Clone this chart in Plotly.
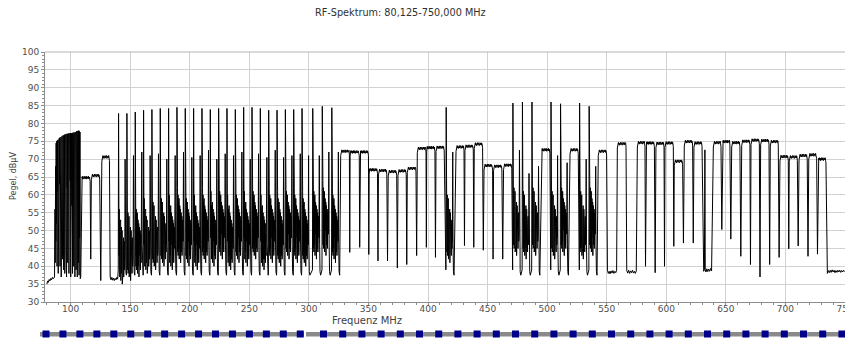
import plotly.graph_objects as go

# ---------------- data (MHz / dBµV) ----------------
# noise-floor stretches
floor_f = [80.1, 80.7, 81.3, 82.0, 82.6, 83.3, 84.0, 84.7, 85.4, 86.1,
           133.2, 133.9, 134.6, 135.3, 136.0, 136.7, 137.4, 138.1, 138.8, 139.5,
           550.6, 551.3, 552.0, 552.8, 553.6, 554.4, 555.2, 556.0, 556.8, 557.6, 558.3,
           566.8, 567.6, 568.4, 569.2, 570.0, 570.8, 571.6, 572.4, 573.2, 574.0, 574.8,
           630.8, 631.4, 632.0, 632.4, 632.7, 633.3, 634.0, 634.8, 635.6, 636.4, 637.2, 638.0,
           735.2, 736.0, 736.8, 737.6, 738.4, 739.2, 740.0, 740.8, 741.6, 742.4,
           743.2, 744.0, 744.8, 745.6, 746.4, 747.2, 748.0, 748.8, 749.6]
floor_v = [35.0, 35.9, 35.5, 36.3, 35.9, 36.6, 36.2, 36.9, 36.5, 37.0,
           37.0, 36.2, 36.9, 36.1, 36.7, 36.0, 36.6, 36.2, 36.9, 36.4,
           38.9, 38.0, 38.6, 37.9, 38.7, 38.1, 38.8, 38.0, 38.6, 38.2, 38.9,
           38.8, 38.1, 38.9, 38.0, 38.7, 38.2, 38.9, 38.1, 38.6, 38.0, 38.7,
           39.5, 38.6, 39.2, 72.6, 39.0, 38.4, 39.3, 38.5, 39.2, 38.6, 39.4, 38.7,
           38.0, 38.8, 38.2, 38.9, 38.3, 39.0, 38.4, 38.9, 38.2, 38.8,
           38.3, 38.9, 38.4, 38.9, 38.3, 38.8, 38.4, 38.9, 38.5]

# FM band carriers and troughs
fm_f = [86.5, 86.9, 87.1, 87.4, 87.6, 87.85, 88.1, 88.35, 88.6, 88.85,
        89.1, 89.35, 89.6, 89.85, 90.1, 90.35, 90.6, 90.85, 91.1, 91.35,
        91.6, 91.85, 92.1, 92.35, 92.6, 92.85, 93.1, 93.35, 93.6, 93.85,
        94.1, 94.35, 94.6, 94.85, 95.1, 95.35, 95.6, 95.85, 96.1, 96.35,
        96.6, 96.85, 97.1, 97.35, 97.6, 97.85, 98.1, 98.35, 98.6, 98.85,
        99.1, 99.35, 99.6, 99.85, 100.1, 100.35, 100.6, 100.85, 101.1, 101.35,
        101.6, 101.85, 102.1, 102.35, 102.6, 102.85, 103.1, 103.35, 103.6, 103.85,
        104.1, 104.35, 104.6, 104.85, 105.1, 105.35, 105.6, 105.85, 106.1, 106.35,
        106.6, 106.85, 107.1, 107.35, 107.6, 107.85, 108.1, 108.5]
fm_v = [37.0, 56, 41, 68, 47, 74.5, 52, 75.0, 40, 75.2,
        61, 75.4, 38, 75.6, 45, 75.8, 63, 76.0, 40, 76.1,
        49, 76.2, 37, 76.4, 56, 76.5, 42, 76.6, 66, 76.7,
        39, 76.8, 51, 76.8, 38, 77.0, 59, 76.9, 44, 77.0,
        37, 77.1, 62, 77.0, 41, 77.2, 53, 77.1, 38, 77.2,
        47, 77.1, 64, 77.3, 37, 77.2, 45, 77.3, 57, 77.2,
        38, 77.4, 49, 77.3, 40, 77.5, 60, 77.3, 37, 77.6,
        46, 77.4, 39, 77.8, 54, 77.6, 37, 77.9, 44, 77.7,
        41, 78.0, 37.5, 77.8, 48, 77.6, 36.5, 37.0]

# digital channel plateaus (start, end, level, dip after; None = no dip)
dig_start = [109.3, 117.4, 126.2,
             326.7, 334.6, 343.0, 350.6, 358.4, 366.6, 374.8, 382.6, 391.0, 398.9, 406.7,
             423.5, 431.0, 438.8, 447.0, 455.0, 463.4,
             495.4, 519.2, 542.9, 558.9,
             575.7, 583.0, 591.3, 598.9, 606.7, 615.1, 623.2,
             639.5, 647.3, 654.9, 663.3, 671.1, 679.2, 687.3, 695.4, 703.2, 711.4, 719.6, 727.6]
dig_end = [116.4, 124.4, 132.6,
           334.0, 342.3, 350.0, 357.6, 365.4, 373.7, 381.7, 389.9, 398.3, 405.8, 413.6,
           430.2, 438.0, 445.8, 454.2, 462.0, 470.3,
           502.3, 526.1, 549.9, 566.2,
           582.1, 590.0, 598.1, 605.9, 613.7, 622.1, 630.0,
           645.9, 653.4, 661.8, 670.2, 678.1, 686.2, 694.0, 702.4, 710.0, 718.3, 726.2, 734.0]
dig_level = [64.8, 65.4, 70.6,
             72.2, 72.0, 72.0, 67.0, 66.8, 66.5, 66.7, 67.4, 73.0, 73.2, 73.3,
             73.4, 73.6, 74.2, 68.2, 68.0, 68.3,
             72.6, 72.6, 72.2, 74.3,
             74.6, 74.5, 74.4, 74.5, 69.4, 74.9, 74.5,
             74.6, 74.9, 74.6, 75.0, 75.3, 75.2, 74.9, 70.7, 70.6, 71.0, 71.2, 70.0]
dig_dip = [42.0, 36.0, None,
           43.9, 45.3, 43.3, 41.5, 41.5, 39.5, 40.5, 43.0, 45.3, 42.5, None,
           45.8, 45.3, 44.5, 42.0, 42.0, None,
           None, None, None, None,
           40.0, 38.2, 40.0, 45.6, 46.5, 46.5, None,
           50.3, 47.6, 42.8, 40.5, 37.0, 40.5, 42.5, 44.9, 45.7, 42.8, 43.4, None]
# fine ripple seen on top of the plateaus (dB)
dig_ripple = [0.3, -0.3, 0.4, -0.2, 0.2, -0.4, 0.3, -0.1, 0.4, -0.3, 0.2, -0.2, 0.4,
              -0.4, 0.1, -0.3, 0.3, -0.2, 0.4, -0.3, 0.2, -0.1, 0.3, -0.4, 0.2, -0.3]

# analogue TV channels (vision carrier, vision peak, sound peak, fill height)
ana_vision = [140.25, 147.25, 154.25, 161.25, 168.25, 175.25, 182.25, 189.25, 196.25,
              203.25, 210.25, 217.25, 224.25, 231.25, 238.25, 245.25, 252.25, 259.25,
              266.25, 273.25, 280.25, 287.25, 294.25, 303.25, 311.25, 319.25,
              415.25, 471.25, 479.25, 487.25, 503.25, 511.25, 527.25, 535.25]
ana_peak = [82.8, 82.8, 83.2, 83.7, 83.9, 84.2, 84.2, 84.5, 84.2,
            84.2, 84.2, 83.9, 84.2, 84.2, 83.9, 84.5, 84.5, 84.2,
            83.7, 83.7, 83.9, 83.9, 84.2, 84.2, 84.8, 84.4,
            84.5, 85.7, 86.0, 86.0, 86.0, 85.5, 85.7, 84.8]
ana_sound = [70.0, 71.0, 72.0, 71.0, 71.5, 70.0, 71.0, 72.0, 70.5,
             71.0, 72.5, 70.0, 71.5, 71.0, 72.0, 70.0, 71.5, 70.5,
             72.5, 70.5, 71.0, 71.5, 71.0, 71.0, 72.0, 72.0,
             72.0, 72.5, 66.0, 68.0, 71.0, 69.0, 70.0, 68.0]
ana_fill = [56, 57, 58, 59, 60, 61, 60, 62, 61,
            60, 62, 61, 63, 60, 62, 61, 63, 60,
            62, 61, 63, 62, 61, 63, 64, 62,
            62, 64, 63, 64, 63, 64, 63, 64]
# in-channel modulation profile (offset from vision carrier, level at fill height 60)
ana_off = [-0.25, 0.1, 0.2, 0.3, 0.4, 0.5, 0.6, 0.7, 0.8, 0.9, 1.0,
           1.15, 1.3, 1.45, 1.6, 1.75, 1.9, 2.05, 2.2, 2.35, 2.5,
           2.65, 2.8, 2.95, 3.1, 3.25, 3.4, 3.55, 3.7, 3.85, 4.0,
           4.15, 4.3, 4.45, 4.6, 4.75, 4.9, 5.05, 5.2, 5.75, 6.1, 6.6]
ana_shape = [39, 62, 44, 59, 47, 60, 42, 57, 45, 58, 41,
             56, 46, 54, 43, 57, 40, 53, 45, 55, 42,
             52, 46, 54, 39, 51, 44, 53, 42, 50, 45,
             52, 41, 49, 44, 51, 43, 48, 45, 46, 38.5, 37.5]

# axis ticks
x_ticks = [100, 150, 200, 250, 300, 350, 400, 450, 500, 550, 600, 650, 700, 750]
y_ticks = [30, 35, 40, 45, 50, 55, 60, 65, 70, 75, 80, 85, 90, 95, 100]

# ---------------- assemble the trace ----------------
pts = list(zip(floor_f, floor_v)) + list(zip(fm_f, fm_v))
for i in range(len(dig_start)):
    s, e, L = dig_start[i], dig_end[i], dig_level[i]
    pts += [(s, L - 1.2), (e, L - 1.0)]
    j = 0
    f = s + 0.35
    while f < e - 0.3:
        pts.append((f, L + dig_ripple[j % len(dig_ripple)]))
        j += 1
        f += 0.3
    if dig_dip[i] is not None:
        pts.append(((e + dig_start[i + 1]) / 2, dig_dip[i]))
for i, fv in enumerate(ana_vision):
    shift = ana_fill[i] - 60
    for o, v in zip(ana_off, ana_shape):
        val = v + shift if 0 < o < 5.5 else v
        pts.append((fv + o, val))
    pts.append((fv, ana_peak[i]))
    pts.append((fv + 5.5, ana_sound[i]))
pts.sort()
xs = [p[0] for p in pts]
ys = [p[1] for p in pts]

fig = go.Figure()
fig.add_trace(go.Scatter(x=xs, y=ys, mode="lines",
                         line=dict(color="#000000", width=1), hoverinfo="skip"))

# ---------------- layout ----------------
L_PX, R_PX, T_PX, B_PX = 45, 845, 52, 302
W, H = 845, 341


def px(xp):
    return (xp - L_PX) / (R_PX - L_PX)


def py(yp):
    return (B_PX - yp) / (B_PX - T_PX)


font = "DejaVu Sans, Verdana, sans-serif"
fig.update_layout(
    width=W, height=H,
    margin=dict(l=L_PX, r=W - R_PX, t=T_PX, b=H - B_PX, autoexpand=False),
    paper_bgcolor="white", plot_bgcolor="white",
    showlegend=False,
    font=dict(family=font, size=9, color="#505050"),
)
fig.update_xaxes(range=[78.5, 750], tickvals=x_ticks, ticktext=[str(t) for t in x_ticks],
                 showgrid=True, gridcolor="#d2d2d2", gridwidth=1,
                 showline=True, linecolor="#8c8c8c", linewidth=1,
                 ticks="outside", ticklen=3, tickcolor="#8c8c8c",
                 ticklabelstandoff=-5, ticklabeloverflow="allow",
                 minor=dict(dtick=10, tick0=0, ticks="outside", ticklen=2, tickcolor="#8c8c8c",
                            showgrid=False),
                 zeroline=False, tickfont=dict(size=9, color="#505050"))
fig.update_yaxes(range=[30, 100], tickvals=y_ticks, ticktext=[str(t) for t in y_ticks],
                 showgrid=True, gridcolor="#d2d2d2", gridwidth=1,
                 showline=True, linecolor="#8c8c8c", linewidth=1,
                 ticks="outside", ticklen=3, tickcolor="#8c8c8c",
                 minor=dict(dtick=1, tick0=0, ticks="outside", ticklen=2, tickcolor="#8c8c8c",
                            showgrid=False),
                 zeroline=False, tickfont=dict(size=9, color="#505050"))

# top border line (100 dB grid)
shapes = [dict(type="line", xref="paper", yref="paper", x0=0, x1=1, y0=1, y1=1,
               line=dict(color="#b4b4b4", width=1))]
# decorative channel bar below the chart
shapes.append(dict(type="rect", xref="paper", yref="paper", x0=px(40), x1=px(845),
                   y0=py(336.5), y1=py(332), line=dict(width=0), fillcolor="#8a8a8a"))
shapes.append(dict(type="rect", xref="paper", yref="paper", x0=px(304), x1=px(306),
                   y0=py(337), y1=py(331.5), line=dict(width=0), fillcolor="white"))
k = 0
while k < 16:
    x0 = 42.5 + 16.95 * k
    shapes.append(dict(type="rect", xref="paper", yref="paper", x0=px(x0), x1=px(x0 + 7),
                       y0=py(337.5), y1=py(330.5), line=dict(width=0), fillcolor="#00008b"))
    k += 1
x0 = 320.0
while x0 < 845:
    shapes.append(dict(type="rect", xref="paper", yref="paper", x0=px(x0), x1=px(min(x0 + 7, 845)),
                       y0=py(337.5), y1=py(330.5), line=dict(width=0), fillcolor="#00008b"))
    x0 += 19.2
fig.update_layout(shapes=shapes)

fig.add_annotation(text="RF-Spektrum: 80,125-750,000 MHz", xref="paper", yref="paper",
                   x=px(400), y=py(12), showarrow=False, xanchor="center", yanchor="middle",
                   font=dict(family=font, size=9.7, color="#303030"))
fig.add_annotation(text="Frequenz MHz", xref="paper", yref="paper",
                   x=px(367), y=py(320.5), showarrow=False, xanchor="center", yanchor="middle",
                   font=dict(family=font, size=10, color="#404040"))
fig.add_annotation(text="Pegel, dBµV", xref="paper", yref="paper", textangle=-90,
                   x=px(13), y=py(176), showarrow=False, xanchor="center", yanchor="middle",
                   font=dict(family=font, size=8, color="#404040"))

fig.write_html("out.html")
